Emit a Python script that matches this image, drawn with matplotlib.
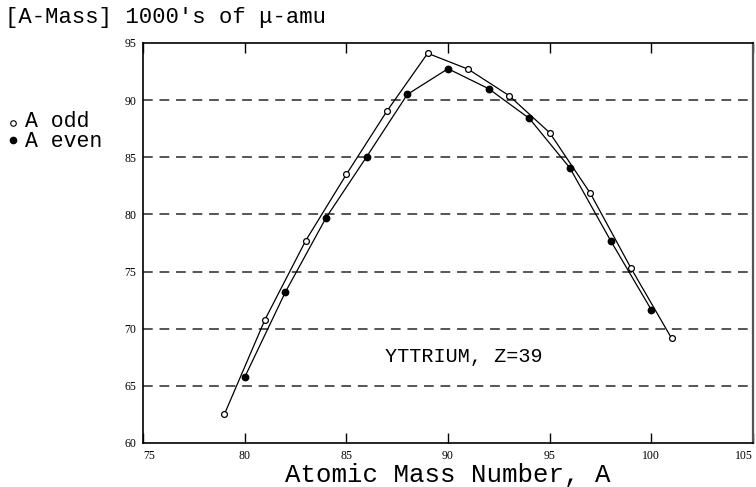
import matplotlib
matplotlib.use("Agg")
import matplotlib.pyplot as plt
from matplotlib.lines import Line2D

odd_A = [79, 81, 83, 85, 87, 89, 91, 93, 95, 97, 99, 101]
odd_mass = [62.5, 70.8, 77.7, 83.5, 89.05, 94.1, 92.7, 90.4, 87.15, 81.85, 75.3, 69.15]
even_A = [80, 82, 84, 86, 88, 90, 92, 94, 96, 98, 100]
even_mass = [65.75, 73.2, 79.7, 85.05, 90.5, 92.75, 91.0, 88.4, 84.05, 77.7, 71.65]
x_ticks = [75, 80, 85, 90, 95, 100, 105]
y_ticks = [60, 65, 70, 75, 80, 85, 90, 95]
grid_levels = [65, 70, 75, 80, 85, 90]

mono = ['Liberation Mono', 'DejaVu Sans Mono']
serif = ['Liberation Serif', 'DejaVu Serif']

fig = plt.figure(figsize=(7.56, 4.87), dpi=100)
ax = fig.add_axes([143/756, 44/487, 610/756, 400/487])

for g in grid_levels:
    ax.axhline(g, color='#555555', lw=1.4, ls=(0, (5, 3.5)), zorder=1)

ax.plot(odd_A, odd_mass, color='black', lw=0.9, marker='o', ms=4.2,
        mfc='white', mec='black', mew=0.9, zorder=3)
ax.plot(even_A, even_mass, color='black', lw=0.9, marker='o', ms=4.6,
        mfc='black', mec='black', zorder=3)

ax.set_xlim(75, 105)
ax.set_ylim(60, 95)
ax.set_xticks(x_ticks)
ax.set_yticks(y_ticks)
ax.tick_params(axis='x', direction='in', length=7, top=True, bottom=True,
               width=1, pad=5, labelsize=8.5)
ax.tick_params(axis='y', length=0, pad=5, labelsize=8.5)
for lab in ax.get_xticklabels() + ax.get_yticklabels():
    lab.set_family(serif)
xl = ax.get_xticklabels()
xl[0].set_ha('left')
xl[-1].set_ha('right')
for s in ax.spines.values():
    s.set_linewidth(1.2)
    s.set_color('black')
ax.spines['right'].set_color('#555555')
ax.spines['right'].set_linewidth(1.6)

ax.set_xlabel('Atomic Mass Number, A', family=mono, fontsize=18.5, labelpad=0.5)
ax.text(0.526, 0.217, 'YTTRIUM, Z=39', transform=ax.transAxes, ha='center',
        va='center', family=mono, fontsize=14.5)

fig.text(5/756, 1 - 18/487, "[A-Mass] 1000's of \u03bc-amu", family=mono,
         fontsize=16, va='center', ha='left')
fig.text(25/756, 1 - 131.5/487, 'A odd\nA even', family=mono, fontsize=15.5,
         va='center', ha='left', linespacing=0.95)
fig.lines.append(Line2D([13/756], [1 - 123/487], marker='o', ms=4,
                        mfc='white', mec='black', mew=0.8,
                        transform=fig.transFigure))
fig.lines.append(Line2D([13/756], [1 - 140/487], marker='o', ms=4.5,
                        mfc='black', mec='black', transform=fig.transFigure))

fig.savefig('out.png', dpi=100, facecolor='white')
